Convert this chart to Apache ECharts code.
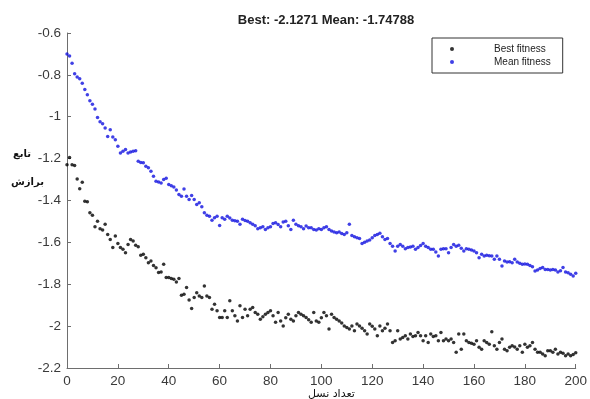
<!DOCTYPE html>
<html>
<head>
<meta charset="utf-8">
<script src="https://cdn.jsdelivr.net/npm/echarts@6/dist/echarts.min.js"></script>
<style>
  html, body { margin: 0; padding: 0; background: #fff; }
  #main { width: 590px; height: 399px; }
</style>
</head>
<body>
<div id="main"></div>
<script>
// fitness per generation (0..200)
const bestFitness = [
  -1.229, -1.195, -1.229, -1.233, -1.297, -1.344, -1.313, -1.403, -1.406, -1.459,
  -1.471, -1.525, -1.499, -1.535, -1.541, -1.514, -1.562, -1.586, -1.625, -1.570,
  -1.605, -1.625, -1.633, -1.649, -1.610, -1.586, -1.594, -1.614, -1.621, -1.662,
  -1.657, -1.673, -1.697, -1.689, -1.710, -1.721, -1.744, -1.741, -1.705, -1.768,
  -1.768, -1.772, -1.776, -1.789, -1.773, -1.852, -1.848, -1.816, -1.875, -1.916,
  -1.863, -1.840, -1.856, -1.863, -1.808, -1.856, -1.863, -1.919, -1.895, -1.927,
  -1.959, -1.959, -1.927, -1.959, -1.879, -1.927, -1.951, -1.975, -1.903, -1.959,
  -1.919, -1.951, -1.919, -1.911, -1.935, -1.943, -1.967, -1.955, -1.943, -1.935,
  -1.927, -1.951, -1.982, -1.935, -1.975, -1.999, -1.960, -1.943, -1.967, -1.975,
  -1.951, -1.935, -1.943, -1.951, -1.959, -1.970, -1.982, -1.935, -1.975, -1.982,
  -1.960, -1.935, -1.951, -2.014, -1.943, -1.959, -1.967, -1.975, -1.985, -1.999,
  -2.006, -2.014, -1.999, -2.022, -1.990, -1.999, -2.010, -2.022, -2.038, -1.990,
  -2.000, -2.014, -2.046, -1.999, -2.022, -2.010, -1.990, -2.022, -2.078, -2.070,
  -2.022, -2.062, -2.054, -2.046, -2.062, -2.038, -2.050, -2.046, -2.030, -2.046,
  -2.070, -2.046, -2.078, -2.038, -2.050, -2.046, -2.070, -2.030, -2.070, -2.062,
  -2.070, -2.062, -2.078, -2.125, -2.038, -2.110, -2.038, -2.070, -2.078, -2.082,
  -2.086, -2.070, -2.101, -2.110, -2.070, -2.078, -2.086, -2.027, -2.094, -2.110,
  -2.078, -2.062, -2.110, -2.118, -2.101, -2.094, -2.100, -2.110, -2.094, -2.125,
  -2.086, -2.101, -2.094, -2.078, -2.110, -2.125, -2.125, -2.133, -2.141, -2.118,
  -2.118, -2.125, -2.110, -2.133, -2.125, -2.130, -2.141, -2.133, -2.141, -2.135,
  -2.127
];
const meanFitness = [
  -0.700, -0.710, -0.745, -0.795, -0.810, -0.818, -0.840, -0.870, -0.895, -0.924,
  -0.940, -0.963, -1.003, -1.024, -1.033, -1.054, -1.094, -1.062, -1.097, -1.110,
  -1.141, -1.173, -1.165, -1.157, -1.173, -1.168, -1.165, -1.162, -1.213, -1.218,
  -1.220, -1.237, -1.244, -1.260, -1.284, -1.308, -1.312, -1.316, -1.300, -1.294,
  -1.324, -1.330, -1.335, -1.350, -1.371, -1.380, -1.345, -1.380, -1.395, -1.376,
  -1.395, -1.419, -1.411, -1.430, -1.459, -1.471, -1.475, -1.494, -1.482, -1.475,
  -1.519, -1.482, -1.490, -1.475, -1.484, -1.494, -1.497, -1.499, -1.514, -1.490,
  -1.495, -1.499, -1.506, -1.514, -1.520, -1.535, -1.530, -1.525, -1.538, -1.530,
  -1.525, -1.510, -1.506, -1.515, -1.525, -1.503, -1.499, -1.520, -1.538, -1.494,
  -1.514, -1.520, -1.525, -1.535, -1.522, -1.530, -1.530, -1.538, -1.541, -1.535,
  -1.538, -1.530, -1.525, -1.538, -1.546, -1.550, -1.554, -1.551, -1.558, -1.562,
  -1.554, -1.514, -1.567, -1.573, -1.578, -1.582, -1.605, -1.599, -1.594, -1.589,
  -1.578, -1.567, -1.562, -1.557, -1.573, -1.586, -1.582, -1.605, -1.618, -1.641,
  -1.618, -1.610, -1.618, -1.630, -1.625, -1.622, -1.618, -1.633, -1.625, -1.615,
  -1.605, -1.618, -1.625, -1.633, -1.633, -1.646, -1.665, -1.633, -1.630, -1.630,
  -1.649, -1.625, -1.610, -1.618, -1.614, -1.628, -1.641, -1.630, -1.633, -1.637,
  -1.641, -1.649, -1.673, -1.657, -1.665, -1.662, -1.664, -1.665, -1.681, -1.665,
  -1.681, -1.713, -1.689, -1.694, -1.692, -1.697, -1.681, -1.694, -1.700, -1.705,
  -1.703, -1.705, -1.710, -1.716, -1.737, -1.732, -1.725, -1.720, -1.729, -1.730,
  -1.732, -1.729, -1.732, -1.741, -1.736, -1.720, -1.741, -1.745, -1.752, -1.760,
  -1.748
];
const xTicks = { min: 0, max: 200, interval: 20 };
const yTicks = { min: -2.2, max: -0.6, interval: 0.2 };
const titleText = 'Best: -2.1271 Mean: -1.74788';

const chart = echarts.init(document.getElementById('main'));

const axisStyle = {
  axisLine: { show: true, lineStyle: { color: '#6e6e6e', width: 1 } },
  axisTick: { show: true, inside: true, length: 4, lineStyle: { color: '#6e6e6e' } },
  splitLine: { show: false },
  axisLabel: { color: '#3a3a3a', fontSize: 13.5, margin: 6, fontFamily: 'Liberation Sans, Arial' }
};

chart.setOption({
  animation: false,
  backgroundColor: '#fff',
  title: {
    text: titleText,
    left: 321, top: 9, textAlign: 'center',
    textStyle: { fontSize: 13, fontWeight: 'bold', color: '#222', fontFamily: 'Liberation Sans, Arial' }
  },
  legend: {
    orient: 'vertical',
    left: 432, top: 38,
    width: 134,
    padding: [6, 12, 6, 18],
    itemGap: 3,
    itemWidth: 10, itemHeight: 4,
    icon: 'circle',
    backgroundColor: '#fff',
    borderColor: '#333', borderWidth: 1,
    textStyle: { fontSize: 10, color: '#222', padding: [0, 0, 0, 32], fontFamily: 'Liberation Sans, Arial' },
    data: ['Best fitness', 'Mean fitness']
  },
  grid: { left: 67, right: 14, top: 33, bottom: 31 },
  xAxis: Object.assign({ type: 'value', min: xTicks.min, max: xTicks.max, interval: xTicks.interval }, axisStyle),
  yAxis: Object.assign({ type: 'value', min: yTicks.min, max: yTicks.max, interval: yTicks.interval }, axisStyle),
  graphic: [
    { type: 'text', left: 13, top: 149, style: { text: 'تابع', fontSize: 10, fontWeight: 'bold', fill: '#111', fontFamily: 'DejaVu Sans' } },
    { type: 'text', left: 11, top: 177, style: { text: 'برازش', fontSize: 10, fontWeight: 'bold', fill: '#111', fontFamily: 'DejaVu Sans' } },
    { type: 'text', left: 308, top: 389, style: { text: 'تعداد نسل', fontSize: 11, fill: '#111', fontFamily: 'DejaVu Sans' } }
  ],
  series: [
    {
      name: 'Best fitness', type: 'scatter', symbolSize: 3.5,
      itemStyle: { color: '#000' },
      data: bestFitness.map((v, i) => [i, v])
    },
    {
      name: 'Mean fitness', type: 'scatter', symbolSize: 3.5,
      itemStyle: { color: '#1010e0' },
      data: meanFitness.map((v, i) => [i, v])
    }
  ]
});
</script>
</body>
</html>
